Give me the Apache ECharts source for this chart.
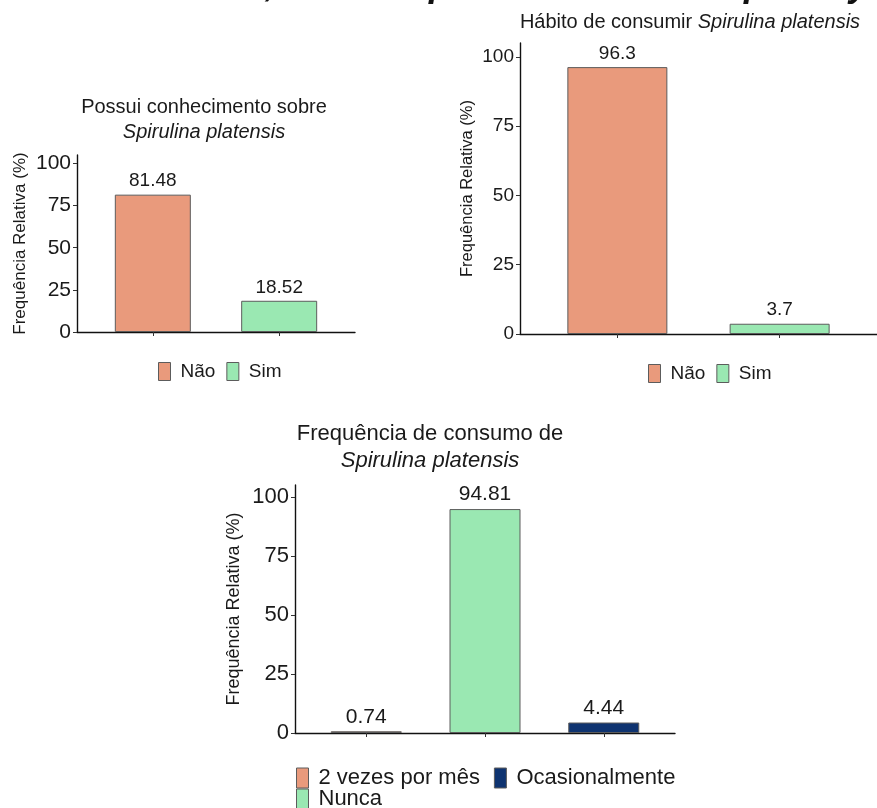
<!DOCTYPE html>
<html>
<head>
<meta charset="utf-8">
<script src="https://cdn.jsdelivr.net/npm/echarts@6/dist/echarts.min.js"></script>
<style>
html,body{margin:0;padding:0;background:#fff;}
#chart{width:877px;height:808px;}
</style>
</head>
<body>
<div id="chart"></div>
<script>
// ---- data ----
const cat1 = ['Não', 'Sim'];
const val1 = [81.48, 18.52];
const cat2 = ['Não', 'Sim'];
const val2 = [96.3, 3.7];
const cat3 = ['2 vezes por mês', 'Nunca', 'Ocasionalmente'];
const val3 = [0.74, 94.81, 4.44];
const yTicks = [0, 25, 50, 75, 100];
const title1 = 'Possui conhecimento sobre';
const title2 = 'Hábito de consumir';
const title3 = 'Frequência de consumo de';
const species = 'Spirulina platensis';
const yName = 'Frequência Relativa (%)';

const colorMap = {
  'Não': '#E99A7C',
  'Sim': '#9AE8B2',
  '2 vezes por mês': '#E99A7C',
  'Nunca': '#9AE8B2',
  'Ocasionalmente': '#0E3370'
};
const FONT = 'Liberation Sans, Arial, Helvetica, sans-serif';
const TXT = '#1a1a1a';
const BORDER = '#5c5c5c';

const chart = echarts.init(document.getElementById('chart'), null, {renderer: 'canvas'});

const grids = [
  {left: 77, top: 155, width: 278, height: 177},
  {left: 520, top: 43, width: 365, height: 291},
  {left: 295, top: 485, width: 380, height: 248}
];
const cats = [cat1, cat2, cat3];
const vals = [val1, val2, val3];
const tickFont = [21, 19, 22];
const nameFont = [17, 16.5, 18];
const nameGap = [48, 44, 52];
const labelFont = [19, 19, 21];
const barW = [76, 100, 71];

const xAxes = [], yAxes = [], series = [];
cats.forEach((cs, gi) => {
  const n = cs.length;
  const pos = cs.map((c, i) => i + 1);
  xAxes.push({
    type: 'value', gridIndex: gi, min: 0.4, max: n + 0.6,
    axisLine: {show: true, lineStyle: {color: '#111', width: 1.4}},
    axisTick: {show: true, customValues: pos, length: 4, lineStyle: {color: '#333', width: 1}},
    axisLabel: {show: false},
    splitLine: {show: false}
  });
  yAxes.push({
    type: 'value', gridIndex: gi, min: 0, max: 105,
    name: yName, nameLocation: 'middle', nameGap: nameGap[gi],
    nameTextStyle: {fontFamily: FONT, fontSize: nameFont[gi], color: TXT},
    axisLine: {show: true, lineStyle: {color: '#111', width: 1.4}},
    axisTick: {show: true, customValues: yTicks, length: 4, lineStyle: {color: '#333', width: 1}},
    axisLabel: {customValues: yTicks, margin: 6, fontFamily: FONT, fontSize: tickFont[gi], color: TXT},
    splitLine: {show: false}
  });
  cs.forEach((c, i) => {
    series.push({
      type: 'bar', name: c, xAxisIndex: gi, yAxisIndex: gi,
      stack: 'g' + gi, barWidth: barW[gi],
      data: [[pos[i], vals[gi][i]]],
      itemStyle: {color: colorMap[c], borderColor: BORDER, borderWidth: 1},
      label: {show: true, position: 'top', distance: 4, fontFamily: FONT, fontSize: labelFont[gi], color: TXT,
              formatter: (p) => String(p.value[1])}
    });
  });
});

function mkTitle(text, left, top, fs, lh) {
  return {
    text: text, left: left, top: top, textAlign: 'center', padding: 0,
    textStyle: {fontFamily: FONT, fontSize: fs, fontWeight: 'normal', color: TXT, lineHeight: lh,
      rich: {i: {fontFamily: FONT, fontSize: fs, fontStyle: 'italic', color: TXT, lineHeight: lh}}}
  };
}

const legendBase = (fs, ih) => ({
  orient: 'horizontal', padding: 0, itemWidth: 12, itemHeight: ih, icon: 'rect',
  itemStyle: {borderColor: BORDER, borderWidth: 1},
  textStyle: {fontFamily: FONT, fontSize: fs, color: TXT, padding: [0, 0, 0, 5]},
  selectedMode: false
});

const headChars = [',', 'p', 'p', 'y'];
const headX = [265, 429, 744, 849];

const option = {
  animation: false,
  backgroundColor: '#fff',
  grid: grids,
  xAxis: xAxes,
  yAxis: yAxes,
  title: [
    mkTitle(title1 + '\n{i|' + species + '}', 204, 95, 20, 25),
    mkTitle(title2 + ' {i|' + species + '}', 690, 10, 20, 24),
    mkTitle(title3 + '\n{i|' + species + '}', 430, 420, 22, 27)
  ],
  legend: [
    Object.assign(legendBase(19, 18), {data: cat1, left: 158, top: 362, itemGap: 11}),
    Object.assign(legendBase(19, 18), {data: cat2, left: 648, top: 364, itemGap: 11}),
    Object.assign(legendBase(22, 20), {data: [cat3[0], cat3[2]], left: 296, top: 767, itemGap: 14}),
    Object.assign(legendBase(22, 20), {data: [cat3[1]], left: 296, top: 788})
  ],
  graphic: headChars.map((ch, i) => ({
    type: 'text', left: headX[i], top: -32, silent: true,
    style: {text: ch, font: 'italic bold 36px ' + FONT, fill: '#111'}
  })),
  series: series
};
chart.setOption(option);
</script>
</body>
</html>
